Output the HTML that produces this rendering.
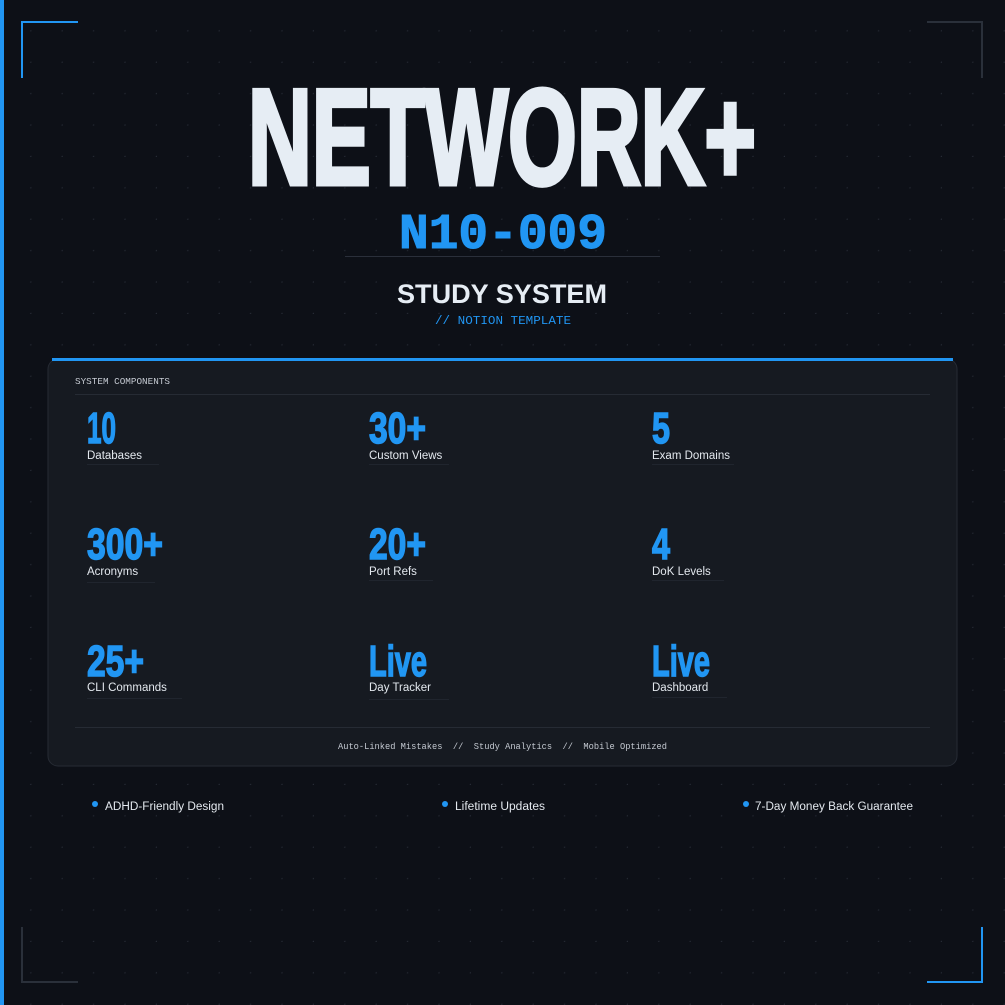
<!DOCTYPE html>
<html><head><meta charset="utf-8"><style>html,body{margin:0;padding:0;background:#0d1017;}svg{display:block}</style></head>
<body>
<svg width="1005" height="1005" viewBox="0 0 1005 1005" xmlns="http://www.w3.org/2000/svg">
<defs>
<pattern id="dots" x="0" y="0" width="31.4" height="31.4" patternUnits="userSpaceOnUse">
<circle cx="31" cy="31" r="0.9" fill="#262b35"/>
</pattern>
</defs>
<rect width="1005" height="1005" fill="#0d1017"/>
<rect width="1005" height="1005" fill="url(#dots)"/>
<rect x="0" y="0" width="4" height="1005" fill="#2196f3"/>
<path d="M22 78 V22 H78" fill="none" stroke="#2196f3" stroke-width="2"/>
<path d="M927 22 H982 V78" fill="none" stroke="#2a303a" stroke-width="2"/>
<path d="M22 927 V982 H78" fill="none" stroke="#2a303a" stroke-width="2"/>
<path d="M927 982 H982 V927" fill="none" stroke="#2196f3" stroke-width="2"/>

<text x="248" y="184" font-family="Liberation Sans, sans-serif" font-weight="bold" font-size="136" fill="#e6edf4" stroke="#e6edf4" stroke-width="5" stroke-linejoin="miter" textLength="508" lengthAdjust="spacingAndGlyphs">NETWORK+</text>
<text x="399" y="248" font-family="Liberation Mono, monospace" font-weight="bold" font-size="50" fill="#2196f3" stroke="#2196f3" stroke-width="1" textLength="208" lengthAdjust="spacingAndGlyphs">N10-009</text>
<rect x="345" y="256" width="315" height="1" fill="#2a2f3a"/>
<text x="397" y="303" font-family="Liberation Sans, sans-serif" font-weight="bold" font-size="27" fill="#e6edf4" textLength="210" lengthAdjust="spacingAndGlyphs">STUDY SYSTEM</text>
<text x="435" y="324" font-family="Liberation Mono, monospace" font-size="12" fill="#2196f3" textLength="136" lengthAdjust="spacingAndGlyphs">// NOTION TEMPLATE</text>

<rect x="48" y="359" width="909" height="407" rx="10" fill="#161a21" stroke="#262b34" stroke-width="1"/>
<rect x="52" y="358" width="901" height="3" fill="#2196f3"/>
<text x="75" y="384" font-family="Liberation Mono, monospace" font-size="9.5" fill="#c4c9d1" textLength="95" lengthAdjust="spacingAndGlyphs">SYSTEM COMPONENTS</text>
<rect x="75" y="394" width="855" height="1" fill="#262b34"/>

<g font-family="Liberation Sans, sans-serif" font-weight="bold" font-size="44" fill="#2196f3" stroke="#2196f3" stroke-width="1.5">
<text x="87" y="443" textLength="29" lengthAdjust="spacingAndGlyphs">10</text>
<text x="369" y="443" textLength="57" lengthAdjust="spacingAndGlyphs">30+</text>
<text x="652" y="443" textLength="18" lengthAdjust="spacingAndGlyphs">5</text>
<text x="87" y="559" textLength="76" lengthAdjust="spacingAndGlyphs">300+</text>
<text x="369" y="559" textLength="57" lengthAdjust="spacingAndGlyphs">20+</text>
<text x="652" y="559" textLength="18" lengthAdjust="spacingAndGlyphs">4</text>
<text x="87" y="676" textLength="57" lengthAdjust="spacingAndGlyphs">25+</text>
<text x="369" y="676" textLength="58" lengthAdjust="spacingAndGlyphs">Live</text>
<text x="652" y="676" textLength="58" lengthAdjust="spacingAndGlyphs">Live</text>
</g>
<g font-family="Liberation Sans, sans-serif" font-size="11.5" fill="#e3e8ee">
<text x="87" y="459">Databases</text>
<text x="369" y="459">Custom Views</text>
<text x="652" y="459">Exam Domains</text>
<text x="87" y="575">Acronyms</text>
<text x="369" y="575">Port Refs</text>
<text x="652" y="575">DoK Levels</text>
<text x="87" y="691">CLI Commands</text>
<text x="369" y="691">Day Tracker</text>
<text x="652" y="691">Dashboard</text>
</g>
<g fill="#20252e">
<rect x="87" y="464" width="72" height="1"/><rect x="369" y="464" width="80" height="1"/><rect x="652" y="464" width="82" height="1"/>
<rect x="87" y="582" width="68" height="1"/><rect x="369" y="580" width="64" height="1"/><rect x="652" y="580" width="72" height="1"/>
<rect x="87" y="698" width="95" height="1"/><rect x="369" y="699" width="80" height="1"/><rect x="652" y="697" width="75" height="1"/>
</g>
<rect x="75" y="727" width="855" height="1" fill="#262b34"/>
<text x="338" y="749" font-family="Liberation Mono, monospace" font-size="9" fill="#c4c9d1" textLength="329" lengthAdjust="spacingAndGlyphs" xml:space="preserve">Auto-Linked Mistakes  //  Study Analytics  //  Mobile Optimized</text>

<g font-family="Liberation Sans, sans-serif" font-size="11.5" fill="#e3e8ee">
<circle cx="95" cy="804" r="3" fill="#2196f3"/><text x="105" y="810" textLength="119" lengthAdjust="spacingAndGlyphs">ADHD-Friendly Design</text>
<circle cx="445" cy="804" r="3" fill="#2196f3"/><text x="455" y="810" textLength="90" lengthAdjust="spacingAndGlyphs">Lifetime Updates</text>
<circle cx="746" cy="804" r="3" fill="#2196f3"/><text x="755" y="810" textLength="158" lengthAdjust="spacingAndGlyphs">7-Day Money Back Guarantee</text>
</g>
</svg>
</body></html>
